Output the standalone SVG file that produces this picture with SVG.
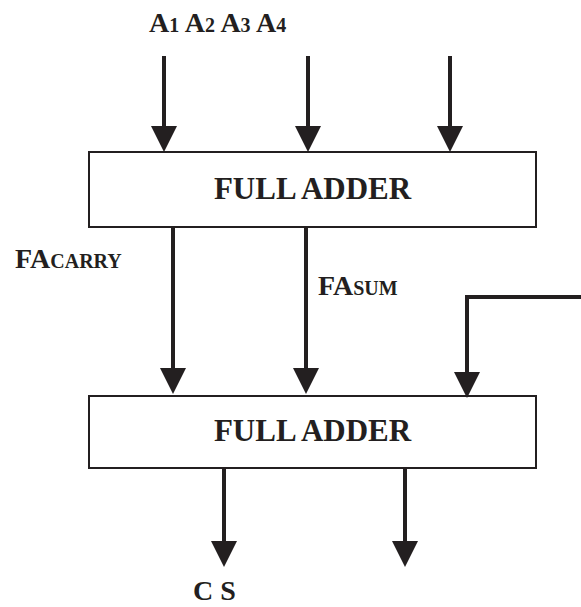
<svg xmlns="http://www.w3.org/2000/svg" width="581" height="607" viewBox="0 0 581 607">
<style>
.box{fill:#fff;stroke:#231f20;stroke-width:2}
.wire{fill:none;stroke:#231f20;stroke-width:4}
.t{font-family:"Liberation Serif","Times New Roman",serif;font-weight:bold;fill:#231f20}
.big{font-size:28px}
.sm{font-size:20px}
.title{font-size:31px}
</style>
<defs>
<marker id="ah" viewBox="0 0 26 26" refX="16" refY="13" markerWidth="26" markerHeight="26" markerUnits="userSpaceOnUse" orient="auto">
<path d="M0,0 L26,13 L0,26 z" fill="#231f20"/>
</marker>
</defs>
<g id="fa1">
<rect class="box" x="89" y="152" width="447" height="75"/>
<text class="t title" x="312.5" y="199" text-anchor="middle">FULL ADDER</text>
</g>
<g id="fa2">
<rect class="box" x="89" y="396" width="447" height="72"/>
<text class="t title" x="312.5" y="441" text-anchor="middle">FULL ADDER</text>
</g>
<g id="labels">
<text class="t big" x="149" y="32">A<tspan class="sm">1</tspan> A<tspan class="sm">2</tspan> A<tspan class="sm">3</tspan> A<tspan class="sm">4</tspan></text>
<text class="t big" x="15" y="268">FA<tspan class="sm">CARRY</tspan></text>
<text class="t big" x="318" y="295">FA<tspan class="sm">SUM</tspan></text>
<text class="t big" x="193" y="600">C S</text>
</g>
<g id="connectors">
<path class="wire" d="M164,56 V142" marker-end="url(#ah)"/>
<path class="wire" d="M308,56 V142" marker-end="url(#ah)"/>
<path class="wire" d="M450,56 V142" marker-end="url(#ah)"/>
<path class="wire" d="M173,227 V384" marker-end="url(#ah)"/>
<path class="wire" d="M306,227 V384" marker-end="url(#ah)"/>
<path class="wire" d="M581,297 H467 V388" marker-end="url(#ah)"/>
<path class="wire" d="M224,468 V557" marker-end="url(#ah)"/>
<path class="wire" d="M405,468 V557" marker-end="url(#ah)"/>
</g>
</svg>
